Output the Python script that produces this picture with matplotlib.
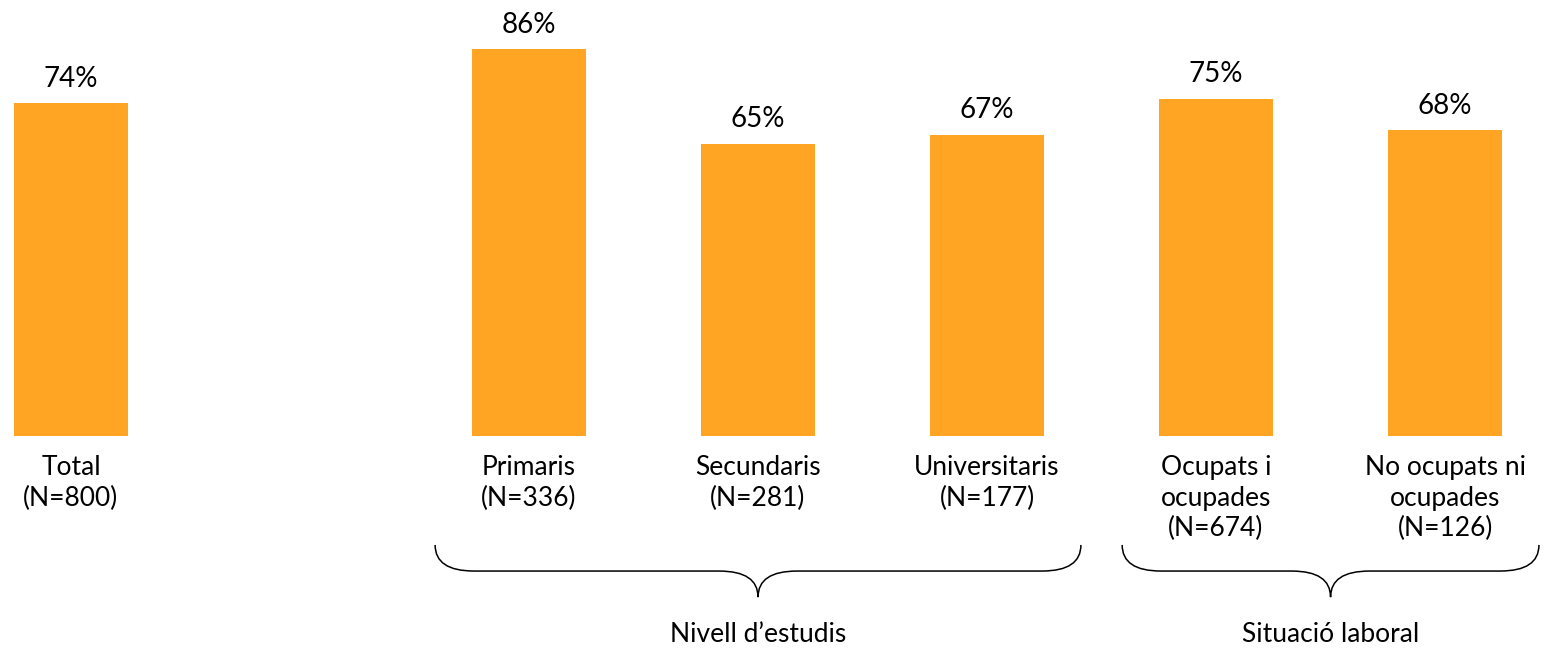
import matplotlib.pyplot as plt
from matplotlib.path import Path
from matplotlib.patches import PathPatch

plt.rcParams['font.family'] = ['Lato', 'DejaVu Sans']

categories = ['Total\n(N=800)', 'Primaris\n(N=336)', 'Secundaris\n(N=281)',
              'Universitaris\n(N=177)', 'Ocupats i\nocupades\n(N=674)',
              'No ocupats ni\nocupades\n(N=126)']
values = [74, 86, 65, 67, 75, 68]
groups = ['Nivell d\u2019estudis', 'Situació laboral']
group_members = [[1, 2, 3], [4, 5]]

# Total stands apart, one empty slot after it
xpos = [0, 2, 3, 4, 5, 6]
color = '#FFA523'

fig = plt.figure(figsize=(15.44, 6.48), dpi=100)
ax = fig.add_axes([0, 0, 1, 1])
ax.set_xlim(-0.31, 6.432)
ax.set_ylim(-47.1, 96.9)
ax.axis('off')

bars = ax.bar(xpos, values, width=0.5, color=color)
for x, v in zip(xpos, values):
    ax.annotate(f'{v}%', (x, v), xytext=(0, 8), textcoords='offset points',
                ha='center', va='bottom', fontsize=20)
for x, c in zip(xpos, categories):
    ax.text(x, -4.2, c, ha='center', va='top', fontsize=19, linespacing=1.28)


def brace(x0, x1, ytop, ymid, ybot, r=0.17):
    xc = (x0 + x1) / 2
    verts = [(x0, ytop), (x0, ymid), (x0 + r, ymid),
             (xc - r, ymid), (xc, ymid), (xc, ybot),
             (xc, ymid), (xc + r, ymid),
             (x1 - r, ymid), (x1, ymid), (x1, ytop)]
    codes = [Path.MOVETO, Path.CURVE3, Path.CURVE3,
             Path.LINETO, Path.CURVE3, Path.CURVE3,
             Path.CURVE3, Path.CURVE3,
             Path.LINETO, Path.CURVE3, Path.CURVE3]
    ax.add_patch(PathPatch(Path(verts, codes), fill=False, lw=1.1, color='black'))
    return xc


for g, members in zip(groups, group_members):
    x0 = xpos[members[0]] - 0.41
    x1 = xpos[members[-1]] + 0.41
    xc = brace(x0, x1, -24.2, -30.0, -35.8)
    ax.text(xc, -44.0, g, ha='center', va='center', fontsize=19)

fig.savefig('out.png', dpi=100)
